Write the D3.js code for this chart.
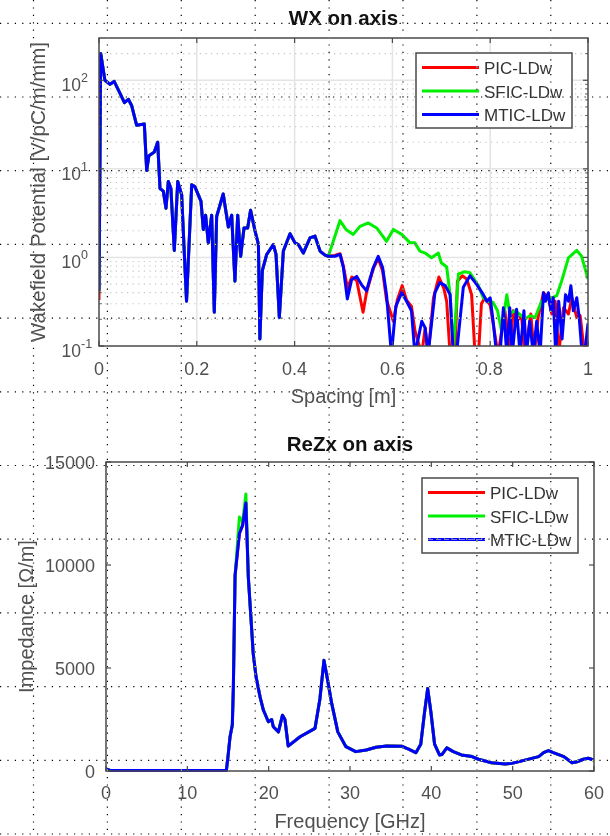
<!DOCTYPE html>
<html>
<head>
<meta charset="utf-8">
<script src="https://cdn.jsdelivr.net/npm/d3@7"></script>
<style>
  body { margin: 0; background: #fff; }
  svg { display: block; }
  text { font-family: "Liberation Sans", Arial, Helvetica, sans-serif; }
</style>
</head>
<body>
<script>
// ---------- data: WX on axis ----------
// part where the three curves coincide
const wxSpacing = [0.0035, 0.012, 0.0225, 0.031, 0.043, 0.052, 0.06, 0.0667, 0.077, 0.0927, 0.0975, 0.102, 0.113, 0.12,
  0.1247, 0.1315, 0.137, 0.1418, 0.147, 0.154, 0.161, 0.169, 0.179, 0.1896, 0.196, 0.2086, 0.2133, 0.218, 0.2235, 0.2304,
  0.2358, 0.2406, 0.254, 0.2645, 0.2713, 0.278, 0.2836, 0.2897, 0.2965, 0.304, 0.31, 0.319, 0.326, 0.329, 0.334, 0.343,
  0.3565, 0.362, 0.3688, 0.377, 0.3906, 0.4008, 0.4076, 0.4178, 0.4315, 0.4417, 0.452, 0.4622, 0.469];
const wxCommon = [200, 100, 90, 97, 71, 56, 61, 52, 31, 32, 9.6, 14, 15.5, 20,
  6.0, 5.6, 3.6, 7.2, 6.0, 1.2, 7.2, 5.1, 0.32, 6.6, 6.3, 4.3, 2.07, 3.0, 1.46, 3.0,
  0.24, 2.9, 5.2, 2.2, 3.0, 0.54, 3.0, 1.03, 2.15, 2.15, 3.4, 2.0, 1.4, 0.12, 0.71, 1.08,
  1.4, 1.08, 0.21, 1.18, 1.85, 1.46, 1.4, 1.12, 1.66, 1.74, 1.18, 1.06, 1.03];
const wxStart = [0.33, 0.42, 0.42]; // value at spacing 0 for PIC, SFIC, MTIC

const picTailS = [0.482, 0.493, 0.4997, 0.508, 0.517, 0.527, 0.54, 0.547, 0.561, 0.571, 0.58, 0.588, 0.602, 0.61, 0.62,
  0.629, 0.639, 0.646, 0.66, 0.667, 0.673, 0.684, 0.695, 0.705, 0.711, 0.718, 0.728, 0.733, 0.743, 0.752, 0.762, 0.769,
  0.776, 0.782, 0.789, 0.8, 0.806, 0.816, 0.83, 0.84, 0.847, 0.854, 0.864, 0.871, 0.883, 0.89, 0.898, 0.909, 0.919,
  0.926, 0.933, 0.94, 0.95, 0.96, 0.967, 0.977, 0.984, 0.993, 1.0];
const picTailV = [1.05, 1.1, 0.8, 0.45, 0.6, 0.55, 0.24, 0.4, 0.75, 0.98, 0.7, 0.33, 0.19, 0.33, 0.48,
  0.33, 0.28, 0.15, 0.08, 0.16, 0.08, 0.35, 0.6, 0.45, 0.32, 0.08, 0.08, 0.54, 0.62, 0.57, 0.38, 0.08,
  0.08, 0.3, 0.35, 0.29, 0.18, 0.08, 0.25, 0.08, 0.25, 0.19, 0.22, 0.08, 0.23, 0.08, 0.21, 0.4, 0.35,
  0.23, 0.32, 0.08, 0.27, 0.23, 0.35, 0.21, 0.22, 0.08, 0.12];

const sficTailS = [0.4928, 0.505, 0.52, 0.5337, 0.5507, 0.5678, 0.588, 0.602, 0.619, 0.636, 0.646, 0.656, 0.667, 0.68,
  0.694, 0.70, 0.711, 0.718, 0.7245, 0.735, 0.748, 0.7587, 0.7757, 0.786, 0.796, 0.806, 0.815, 0.823, 0.834, 0.84,
  0.85, 0.86, 0.871, 0.881, 0.892, 0.905, 0.922, 0.936, 0.946, 0.96, 0.977, 0.987, 1.0];
const sficTailV = [2.6, 2.07, 1.82, 2.24, 2.45, 2.15, 1.52, 2.07, 1.82, 1.46, 1.46, 1.18, 1.12, 0.99,
  1.12, 0.87, 0.78, 0.38, 0.09, 0.65, 0.69, 0.67, 0.48, 0.35, 0.32, 0.31, 0.25, 0.15, 0.38, 0.23,
  0.25, 0.23, 0.2, 0.22, 0.21, 0.32, 0.34, 0.37, 0.54, 0.99, 1.2, 1.03, 0.57];

const mticTailS = [0.4826, 0.493, 0.4997, 0.5078, 0.5166, 0.527, 0.537, 0.547, 0.561, 0.571, 0.58, 0.588, 0.598, 0.607,
  0.619, 0.629, 0.639, 0.646, 0.66, 0.667, 0.673, 0.687, 0.697, 0.708, 0.718, 0.7245, 0.731, 0.745, 0.7587, 0.772,
  0.786, 0.793, 0.8, 0.8065, 0.813, 0.82, 0.827, 0.834, 0.84, 0.845, 0.854, 0.861, 0.869, 0.874, 0.881, 0.888, 0.895,
  0.902, 0.909, 0.913, 0.919, 0.924, 0.929, 0.934, 0.94, 0.947, 0.954, 0.96, 0.965, 0.97, 0.977, 0.982, 0.988, 0.993, 1.0];
const mticTailV = [1.03, 1.08, 0.77, 0.34, 0.56, 0.61, 0.49, 0.42, 0.77, 1.03, 0.77, 0.38, 0.08, 0.28,
  0.4, 0.32, 0.25, 0.08, 0.19, 0.16, 0.08, 0.4, 0.52, 0.48, 0.38, 0.08, 0.08, 0.46, 0.62, 0.5,
  0.38, 0.32, 0.35, 0.18, 0.08, 0.08, 0.27, 0.08, 0.27, 0.08, 0.26, 0.08, 0.25, 0.08, 0.19, 0.08, 0.19,
  0.08, 0.4, 0.32, 0.4, 0.25, 0.35, 0.08, 0.32, 0.12, 0.38, 0.32, 0.48, 0.25, 0.35, 0.21, 0.08, 0.08, 0.18];

// ---------- data: ReZx on axis ----------
const freq = [0, 0.5, 5, 10, 14.8, 15.0, 15.25, 15.53, 15.66, 15.87, 16.4, 16.8, 17.2, 17.5, 17.76, 18.1, 18.45, 18.94,
  19.35, 19.96, 20.37, 20.57, 21.2, 21.7, 22.0, 22.4, 23.86, 25.7, 26.3, 26.8, 27.3, 27.75, 28.5, 29.5, 30.7, 32.0,
  33.2, 34.5, 36.4, 37.2, 38.1, 38.7, 39.15, 39.55, 39.95, 40.4, 41.0, 41.3, 41.9, 42.7, 43.7, 45.0, 45.8, 47.4,
  49.1, 49.9, 51.5, 53.2, 53.8, 54.4, 55.0, 56.3, 57.3, 57.9, 58.7, 59.3, 60];
const reZxMtic = [100, 30, 20, 20, 30, 700, 1660, 2230, 4090, 9500, 11530, 11930, 13010, 9400, 7800, 5700, 4570, 3600,
  2960, 2390, 2500, 2150, 1900, 2710, 2500, 1210, 1660, 2070, 3500, 5370, 4300, 3280, 1900, 1180, 940, 1020,
  1150, 1210, 1200, 1060, 890, 1300, 2800, 4000, 2850, 1300, 780, 800, 1120, 940, 780, 700, 570, 400,
  340, 370, 530, 700, 890, 990, 890, 700, 400, 450, 570, 620, 530];
const reZxPic = [100, 30, 20, 20, 30, 700, 1660, 2230, 4090, 9500, 11530, 11930, 13010, 9400, 7800, 5700, 4570, 3600,
  2960, 2390, 2500, 2150, 1900, 2710, 2500, 1210, 1660, 2070, 3500, 5370, 4300, 3280, 1900, 1180, 940, 1020,
  1150, 1210, 1200, 1060, 890, 1300, 2800, 4000, 2850, 1300, 780, 800, 1120, 940, 780, 700, 570, 400,
  340, 370, 530, 700, 890, 990, 890, 700, 400, 450, 570, 620, 530];
const reZxSfic = [100, 30, 20, 20, 30, 700, 1660, 2230, 4090, 9500, 12330, 12100, 13450, 9400, 7800, 5700, 4570, 3600,
  2960, 2390, 2500, 2150, 1900, 2710, 2500, 1210, 1660, 2070, 3500, 5370, 4300, 3280, 1900, 1180, 940, 1020,
  1150, 1210, 1200, 1060, 890, 1300, 2800, 4000, 2850, 1300, 780, 800, 1120, 940, 780, 700, 570, 400,
  340, 370, 530, 700, 890, 990, 890, 700, 400, 450, 570, 620, 530];

const seriesNames = ["PIC-LDw", "SFIC-LDw", "MTIC-LDw"];
const seriesColors = ["#ff0000", "#00ee00", "#0000ff"];
const wxXTicks = [0, 0.2, 0.4, 0.6, 0.8, 1];
const wxYTicks = [0.1, 1, 10, 100];
const wxYExp = ["-1", "0", "1", "2"];
const zXTicks = [0, 10, 20, 30, 40, 50, 60];
const zYTicks = [0, 5000, 10000, 15000];

// ---------- layout ----------
const W = 610, H = 836;
const axisColor = "#4a4a4a", labelColor = "#505050";
const svg = d3.select("body").append("svg").attr("width", W).attr("height", H);
svg.append("rect").attr("width", W).attr("height", H).attr("fill", "#fff");

const defs = svg.append("defs");

// ================= top panel =================
const t = {left: 99, right: 588, top: 38, bottom: 346};
const x1 = d3.scaleLinear().domain([0, 1]).range([t.left, t.right]);
const y1 = d3.scaleLog().domain([0.1, 300]).range([t.bottom, t.top]);

defs.append("clipPath").attr("id", "clipTop")
  .append("rect").attr("x", t.left).attr("y", t.top).attr("width", t.right - t.left).attr("height", t.bottom - t.top);

const g1 = svg.append("g");

// minor grid (log)
const minorY = [];
[0.1, 1, 10, 100].forEach(d => { for (let k = 2; k <= 9; k++) if (d * k < 300) minorY.push(d * k); });
g1.append("g").selectAll("line").data(minorY).join("line")
  .attr("x1", t.left).attr("x2", t.right)
  .attr("y1", d => y1(d)).attr("y2", d => y1(d))
  .attr("stroke", "#c4c4c4").attr("stroke-width", 1.1).attr("stroke-dasharray", "1.2 4.4");

// major grid
g1.append("g").selectAll("line").data(wxXTicks.slice(1, -1)).join("line")
  .attr("x1", d => x1(d)).attr("x2", d => x1(d)).attr("y1", t.top).attr("y2", t.bottom)
  .attr("stroke", "#e4e4e4").attr("stroke-width", 1.5);
g1.append("g").selectAll("line").data([1, 10, 100]).join("line")
  .attr("x1", t.left).attr("x2", t.right).attr("y1", d => y1(d)).attr("y2", d => y1(d))
  .attr("stroke", "#e4e4e4").attr("stroke-width", 1.5);

// curves
const wxSeries = [
  {x: [0, ...wxSpacing, ...picTailS], y: [wxStart[0], ...wxCommon, ...picTailV]},
  {x: [0, ...wxSpacing, ...sficTailS], y: [wxStart[1], ...wxCommon, ...sficTailV]},
  {x: [0, ...wxSpacing, ...mticTailS], y: [wxStart[2], ...wxCommon, ...mticTailV]}
];
const line1 = d3.line().x(d => x1(d[0])).y(d => y1(d[1]));
const curves1 = g1.append("g").attr("clip-path", "url(#clipTop)");
wxSeries.forEach((s, i) => {
  curves1.append("path")
    .datum(s.x.map((v, j) => [v, s.y[j]]))
    .attr("d", line1)
    .attr("fill", "none")
    .attr("stroke", seriesColors[i])
    .attr("stroke-width", 3)
    .attr("stroke-linejoin", "round");
});

// box
g1.append("rect").attr("x", t.left).attr("y", t.top).attr("width", t.right - t.left).attr("height", t.bottom - t.top)
  .attr("fill", "none").attr("stroke", axisColor).attr("stroke-width", 1.5);

// ticks
const tk1 = g1.append("g").attr("stroke", axisColor).attr("stroke-width", 1.2);
wxXTicks.forEach(v => {
  tk1.append("line").attr("x1", x1(v)).attr("x2", x1(v)).attr("y1", t.bottom).attr("y2", t.bottom - 5);
  tk1.append("line").attr("x1", x1(v)).attr("x2", x1(v)).attr("y1", t.top).attr("y2", t.top + 5);
});
wxYTicks.forEach(v => {
  tk1.append("line").attr("x1", t.left).attr("x2", t.left + 5).attr("y1", y1(v)).attr("y2", y1(v));
  tk1.append("line").attr("x1", t.right).attr("x2", t.right - 5).attr("y1", y1(v)).attr("y2", y1(v));
});
minorY.forEach(v => {
  tk1.append("line").attr("x1", t.left).attr("x2", t.left + 3).attr("y1", y1(v)).attr("y2", y1(v)).attr("stroke-width", 0.8);
  tk1.append("line").attr("x1", t.right).attr("x2", t.right - 3).attr("y1", y1(v)).attr("y2", y1(v)).attr("stroke-width", 0.8);
});

// tick labels
g1.append("g").selectAll("text").data(wxXTicks).join("text")
  .attr("x", d => x1(d)).attr("y", t.bottom + 29)
  .attr("text-anchor", "middle").attr("font-size", 18).attr("fill", labelColor)
  .text(d => d3.format("~g")(d));
wxYTicks.forEach((v, i) => {
  g1.append("text").attr("x", 81).attr("y", y1(v) + 11)
    .attr("text-anchor", "end").attr("font-size", 17.5).attr("fill", labelColor).text("10");
  g1.append("text").attr("x", 81).attr("y", y1(v) + 2)
    .attr("text-anchor", "start").attr("font-size", 12.5).attr("fill", labelColor).text(wxYExp[i]);
});

// labels
svg.append("text").attr("x", (t.left + t.right) / 2).attr("y", 25)
  .attr("text-anchor", "middle").attr("font-size", 20.5).attr("font-weight", "bold").attr("fill", "#111")
  .text("WX on axis");
svg.append("text").attr("x", (t.left + t.right) / 2).attr("y", 403)
  .attr("text-anchor", "middle").attr("font-size", 20).attr("fill", labelColor)
  .text("Spacing [m]");
svg.append("text").attr("transform", `translate(45,${(t.top + t.bottom) / 2}) rotate(-90)`)
  .attr("text-anchor", "middle").attr("font-size", 20.5).attr("fill", labelColor)
  .text("Wakefield Potential [V/pC/m/mm]");

// legend
function legend(g, lx, ly, lw, lh, dashedLast) {
  g.append("rect").attr("x", lx).attr("y", ly).attr("width", lw).attr("height", lh)
    .attr("fill", "#fff").attr("stroke", axisColor).attr("stroke-width", 1.5);
  seriesNames.forEach((name, i) => {
    const yy = ly + 14.5 + i * 23.5;
    g.append("line").attr("x1", lx + 6).attr("x2", lx + 63).attr("y1", yy).attr("y2", yy)
      .attr("stroke", seriesColors[i]).attr("stroke-width", 3);
    if (dashedLast && i === 2) {
      g.append("line").attr("x1", lx + 6).attr("x2", lx + 63).attr("y1", yy).attr("y2", yy)
        .attr("stroke", "#9a9aff").attr("stroke-width", 0.8).attr("stroke-dasharray", "5 3");
    }
    g.append("text").attr("x", lx + 68).attr("y", yy + 6.5)
      .attr("font-size", 17).attr("fill", "#333").text(name);
  });
}
legend(svg.append("g"), 416, 53, 156, 75, false);

// ================= bottom panel =================
const b = {left: 106, right: 594, top: 462, bottom: 771};
const x2 = d3.scaleLinear().domain([0, 60]).range([b.left, b.right]);
const y2 = d3.scaleLinear().domain([0, 15000]).range([b.bottom, b.top]);

defs.append("clipPath").attr("id", "clipBot")
  .append("rect").attr("x", b.left).attr("y", b.top - 2).attr("width", b.right - b.left).attr("height", b.bottom - b.top + 4);

const g2 = svg.append("g");
const line2 = d3.line().x(d => x2(d[0])).y(d => y2(d[1]));
const curves2 = g2.append("g").attr("clip-path", "url(#clipBot)");
[reZxPic, reZxSfic, reZxMtic].forEach((vals, i) => {
  curves2.append("path")
    .datum(freq.map((f, j) => [f, vals[j]]))
    .attr("d", line2)
    .attr("fill", "none")
    .attr("stroke", seriesColors[i])
    .attr("stroke-width", 3)
    .attr("stroke-linejoin", "round");
});

g2.append("rect").attr("x", b.left).attr("y", b.top).attr("width", b.right - b.left).attr("height", b.bottom - b.top)
  .attr("fill", "none").attr("stroke", axisColor).attr("stroke-width", 1.5);

const tk2 = g2.append("g").attr("stroke", axisColor).attr("stroke-width", 1.2);
zXTicks.forEach(v => {
  tk2.append("line").attr("x1", x2(v)).attr("x2", x2(v)).attr("y1", b.bottom).attr("y2", b.bottom - 5);
  tk2.append("line").attr("x1", x2(v)).attr("x2", x2(v)).attr("y1", b.top).attr("y2", b.top + 5);
});
zYTicks.forEach(v => {
  tk2.append("line").attr("x1", b.left).attr("x2", b.left + 5).attr("y1", y2(v)).attr("y2", y2(v));
  tk2.append("line").attr("x1", b.right).attr("x2", b.right - 5).attr("y1", y2(v)).attr("y2", y2(v));
});

g2.append("g").selectAll("text").data(zXTicks).join("text")
  .attr("x", d => x2(d)).attr("y", b.bottom + 28)
  .attr("text-anchor", "middle").attr("font-size", 18).attr("fill", labelColor)
  .text(d => d);
g2.append("g").selectAll("text").data(zYTicks).join("text")
  .attr("x", b.left - 11).attr("y", d => y2(d) + 6.5)
  .attr("text-anchor", "end").attr("font-size", 18).attr("fill", labelColor)
  .text(d => d);

svg.append("text").attr("x", (b.left + b.right) / 2).attr("y", 451)
  .attr("text-anchor", "middle").attr("font-size", 20.5).attr("font-weight", "bold").attr("fill", "#111")
  .text("ReZx on axis");
svg.append("text").attr("x", (b.left + b.right) / 2).attr("y", 828)
  .attr("text-anchor", "middle").attr("font-size", 20).attr("fill", labelColor)
  .text("Frequency [GHz]");
svg.append("text").attr("transform", `translate(33,${(b.top + b.bottom) / 2}) rotate(-90)`)
  .attr("text-anchor", "middle").attr("font-size", 20).attr("fill", labelColor)
  .text("Impedance [\u03A9/m]");

legend(svg.append("g"), 422, 478, 156, 75, true);

// ================= page dotted overlay =================
const ov = svg.append("g").style("mix-blend-mode", "difference")
  .attr("stroke", "#fff").attr("stroke-width", 1.2).attr("stroke-dasharray", "1.2 6.2");
d3.range(8).forEach(i => {
  const xx = 33.5 + i * 73.9;
  ov.append("line").attr("x1", xx).attr("x2", xx).attr("y1", 0).attr("y2", H);
});
d3.range(12).forEach(j => {
  const yy = 23.3 + j * 73.7;
  ov.append("line").attr("x1", 0).attr("x2", W).attr("y1", yy).attr("y2", yy);
});
</script>
</body>
</html>
